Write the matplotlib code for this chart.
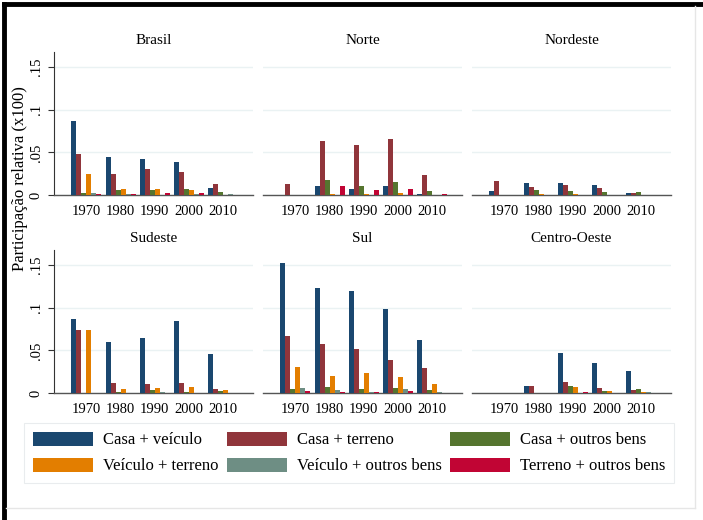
import numpy as np
import matplotlib
matplotlib.use('Agg')
from matplotlib import pyplot as plt
from matplotlib.patches import Patch
from matplotlib.lines import Line2D

plt.rcParams.update({'font.family': 'Liberation Serif'})

# data
years = ['1970', '1980', '1990', '2000', '2010']
series = ['Casa + veículo', 'Casa + terreno', 'Casa + outros bens',
          'Veículo + terreno', 'Veículo + outros bens', 'Terreno + outros bens']
colors = ['#1a476f', '#90353b', '#55752f', '#e37e00', '#6e8e84', '#c10534']
regions = ['Brasil', 'Norte', 'Nordeste', 'Sudeste', 'Sul', 'Centro-Oeste']

# rows = years, columns = series
brasil = [[0.0867, 0.0477, 0.0027, 0.0242, 0.0027, 0.0015],
          [0.0445, 0.0250, 0.0055, 0.0070, 0.0010, 0.0016],
          [0.0426, 0.0300, 0.0055, 0.0070, 0.0005, 0.0020],
          [0.0383, 0.0270, 0.0066, 0.0055, 0.0010, 0.0027],
          [0.0078, 0.0125, 0.0035, 0.0005, 0.0010, 0.0005]]
norte = [[0.0, 0.0129, 0.0, 0.0, 0.0, 0.0],
         [0.0105, 0.0637, 0.0176, 0.0015, 0.0, 0.0105],
         [0.0066, 0.0586, 0.0105, 0.0010, 0.0, 0.0062],
         [0.0105, 0.0660, 0.0156, 0.0027, 0.0, 0.0074],
         [0.0012, 0.0230, 0.0047, 0.0, 0.0, 0.0016]]
nordeste = [[0.0050, 0.0164, 0.0, 0.0, 0.0, 0.0],
            [0.0140, 0.0094, 0.0055, 0.0016, 0.0, 0.0],
            [0.0140, 0.0117, 0.0047, 0.0010, 0.0, 0.0],
            [0.0117, 0.0086, 0.0035, 0.0, 0.0, 0.0],
            [0.0023, 0.0023, 0.0030, 0.0, 0.0, 0.0]]
sudeste = [[0.0864, 0.0738, 0.0, 0.0738, 0.0, 0.0],
           [0.0594, 0.0113, 0.0010, 0.0050, 0.0, 0.0],
           [0.0649, 0.0110, 0.0030, 0.0060, 0.0010, 0.0],
           [0.0844, 0.0113, 0.0010, 0.0066, 0.0, 0.0],
           [0.0453, 0.0050, 0.0020, 0.0035, 0.0005, 0.0]]
sul = [[0.1520, 0.0668, 0.0050, 0.0301, 0.0055, 0.0023],
       [0.1227, 0.0574, 0.0070, 0.0199, 0.0030, 0.0012],
       [0.1200, 0.0516, 0.0050, 0.0230, 0.0010, 0.0010],
       [0.0984, 0.0390, 0.0060, 0.0188, 0.0043, 0.0023],
       [0.0621, 0.0297, 0.0030, 0.0105, 0.0008, 0.0005]]
centro_oeste = [[0.0, 0.0, 0.0, 0.0, 0.0, 0.0],
                [0.0086, 0.0086, 0.0, 0.0, 0.0, 0.0],
                [0.0465, 0.0125, 0.0080, 0.0074, 0.0, 0.0010],
                [0.0352, 0.0060, 0.0023, 0.0023, 0.0, 0.0],
                [0.0258, 0.0030, 0.0043, 0.0010, 0.0008, 0.0]]
panel_data = [brasil, norte, nordeste, sudeste, sul, centro_oeste]

yticks = [0, 0.05, 0.1, 0.15]
ytick_labels = ['0', '.05', '.1', '.15']

fig = plt.figure(figsize=(7.03, 5.2), dpi=100)
fig.patch.set_facecolor('white')

# panel positions (figure fractions)
lefts = [54 / 703, 263 / 703, 472 / 703]
bottoms = [1 - 195 / 520, 1 - 393 / 520]
w = 199 / 703
h = 143 / 520

bw = 0.147  # bar width
x = np.arange(len(years))

for k, (name, vals) in enumerate(zip(regions, panel_data)):
    r, c = divmod(k, 3)
    ax = fig.add_axes([lefts[c], bottoms[r], w, h])
    vals = np.array(vals)
    for j in range(len(series)):
        ax.bar(x + (j - 2.5) * bw, vals[:, j], width=bw, color=colors[j],
               linewidth=0, zorder=3)
    ax.set_xlim(-0.955, 4.895)
    ax.set_ylim(0, 0.1676)
    ax.set_yticks(yticks)
    ax.yaxis.grid(True, color='#eaf2f3', linewidth=1)
    ax.set_axisbelow(True)
    ax.set_xticks(x)
    ax.set_xticklabels(years, fontsize=10.5)
    ax.tick_params(axis='x', length=0, pad=7)
    for s in ['top', 'right']:
        ax.spines[s].set_visible(False)
    ax.spines['bottom'].set_color('#555555')
    ax.spines['bottom'].set_linewidth(1)
    if c == 0:
        ax.set_yticklabels(ytick_labels, fontsize=10.5, rotation=90, va='center')
        ax.tick_params(axis='y', length=4, color='#333333', pad=4)
        ax.spines['left'].set_color('#333333')
    else:
        ax.set_yticklabels([])
        ax.tick_params(axis='y', length=0)
        ax.spines['left'].set_visible(False)
    ax.set_title(name, fontsize=11, pad=6)

fig.text(20 / 703, 1 - 179 / 520, 'Participação relativa (x100)', rotation=90,
         ha='center', va='center', fontsize=12)

handles = [Patch(facecolor=cl, edgecolor='none') for cl in colors]
# order for a 3-column legend filled row-wise
order = [0, 3, 1, 4, 2, 5]
leg = fig.legend([handles[i] for i in order], [series[i] for i in order],
                 ncol=3, loc='center', bbox_to_anchor=(349 / 703, 1 - 453 / 520),
                 fontsize=12, frameon=True, fancybox=False,
                 handlelength=3.6, handleheight=0.95, handletextpad=0.6,
                 columnspacing=0.5, labelspacing=0.55, borderpad=0.5)
leg.get_frame().set_edgecolor('#e4e8ea')
leg.get_frame().set_linewidth(0.8)

# screenshot frame
fig.add_artist(Line2D([4 / 703, 4 / 703], [0, 1 - 4 / 520], color='black', lw=3.5))
fig.add_artist(Line2D([4 / 703, 1], [1 - 4 / 520, 1 - 4 / 520], color='black', lw=3.5))
fig.add_artist(Line2D([695 / 703, 695 / 703], [1 - 508 / 520, 1 - 6 / 520], color='#e6e6e6', lw=1))
fig.add_artist(Line2D([6 / 703, 695 / 703], [1 - 508 / 520, 1 - 508 / 520], color='#e6e6e6', lw=1))

fig.savefig('out.png', dpi=100)
